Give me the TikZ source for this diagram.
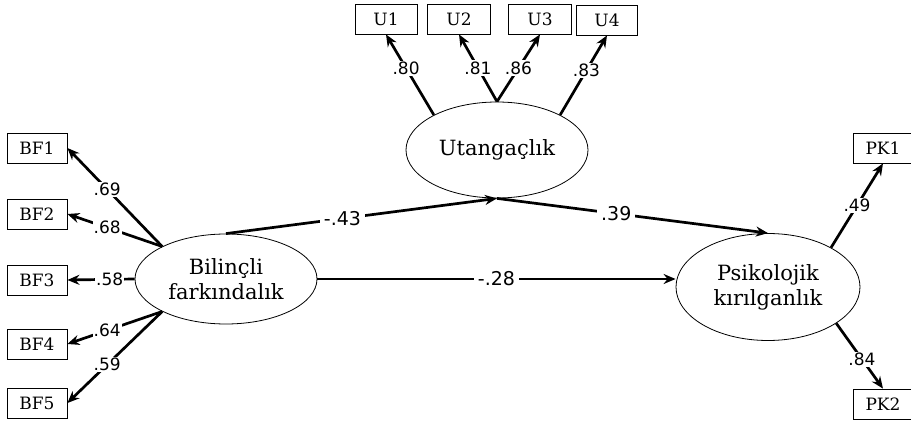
\documentclass[tikz,border=0pt]{standalone}
\usepackage{fontspec}
\setmainfont{DejaVu Serif}
\newfontfamily\coeffont{DejaVu Sans}
\usetikzlibrary{shapes.geometric,arrows.meta}
\begin{document}
\begin{tikzpicture}[x=1pt,y=-1pt,
  obs/.style={draw,line width=0.8pt,minimum width=60pt,minimum height=30pt,inner sep=0pt,font=\fontsize{17}{18}\selectfont,text depth=0pt,anchor=center},
  lat/.style={draw,ellipse,line width=0.8pt,inner sep=0pt,align=center,font=\fontsize{21}{25}\selectfont},
  conn/.style={line width=2.7pt,-{Stealth[length=12pt,width=10pt]}},
  coef/.style={fill=white,inner sep=1.2pt,font=\coeffont\fontsize{17}{18}\selectfont},
  pcoef/.style={fill=white,inner sep=4pt,font=\coeffont\fontsize{19}{20}\selectfont}]
\useasboundingbox (0,0) rectangle (911,422);
% observed boxes
\node[obs] (bf1) at (37,148) {BF1};
\node[obs] (bf2) at (37,214) {BF2};
\node[obs] (bf3) at (37,280) {BF3};
\node[obs] (bf4) at (37,344) {BF4};
\node[obs] (bf5) at (37,403) {BF5};
\node[obs,minimum width=62pt] (u1) at (386,19) {U1};
\node[obs,minimum width=63pt] (u2) at (459,19) {U2};
\node[obs,minimum width=63pt] (u3) at (540,19) {U3};
\node[obs,minimum width=61pt] (u4) at (607,20) {U4};
\node[obs] (pk1) at (883,148) {PK1};
\node[obs] (pk2) at (883,404) {PK2};
% latent ellipses
\node[lat,minimum width=182pt,minimum height=90pt] (bf) at (226,279) {Bilinçli\\farkındalık};
\node[lat,minimum width=182pt,minimum height=96pt] (ut) at (497,150) {Utangaçlık};
\node[lat,minimum width=184pt,minimum height=107pt] (pk) at (768,287) {Psikolojik\\kırılganlık};
% loadings
\draw[conn] (bf.153) -- node[coef,pos=0.58] {.69} (bf1.east);
\draw[conn] (bf.153) -- node[coef,pos=0.58] {.68} (bf2.east);
\draw[conn] (bf.west) -- node[coef,pos=0.37] {.58} (bf3.east);
\draw[conn] (bf.207) -- node[coef,pos=0.58] {.64} (bf4.east);
\draw[conn] (bf.207) -- node[coef,pos=0.58] {.59} (bf5.east);
\draw[conn] (ut.151) -- node[coef,pos=0.58] {.80} (u1.south);
\draw[conn] (ut.north) -- node[coef,pos=0.5] {.81} (u2.south);
\draw[conn] (ut.north) -- node[coef,pos=0.5] {.86} (u3.south);
\draw[conn] (ut.29) -- node[coef,pos=0.56] {.83} (u4.south);
\draw[conn] (pk.32) -- node[coef,pos=0.5] {.49} (pk1.south);
\draw[conn] (pk.-28) -- node[coef,pos=0.55] {.84} (pk2.north);
% structural paths
\draw[conn] (bf.north) -- node[pcoef,pos=0.43] {-.43} (ut.south);
\draw[conn] (ut.south) -- node[pcoef,pos=0.44] {.39} (pk.north);
\draw[conn] (bf.east) -- node[pcoef,pos=0.5] {-.28} (bf.east -| pk.west);
\end{tikzpicture}
\end{document}
